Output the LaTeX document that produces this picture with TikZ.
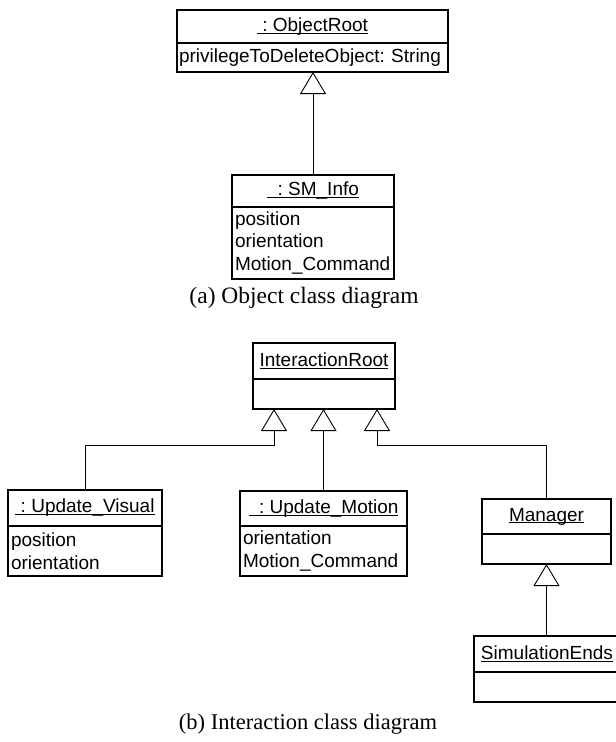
\documentclass[tikz,border=0pt]{standalone}
\usepackage{fontspec}
\setmainfont{Liberation Serif}
\newfontfamily\umlfont{Liberation Sans}
\usetikzlibrary{arrows.meta,calc}
\frenchspacing
\newcommand\umlul[1]{\setbox0\hbox{#1}\rlap{\rule[-2.2pt]{\wd0}{1pt}}\box0}
\begin{document}
\begin{tikzpicture}[x=1pt,y=-1pt,
  umlbox/.style={draw, line width=1.4pt, inner sep=0pt, outer sep=0pt, anchor=north west,
    font=\umlfont\fontsize{19}{22.5}\selectfont},
  hdr/.style={umlbox, align=center},
  bdy/.style={umlbox, align=left, inner xsep=3pt},
  gen/.style={-{Triangle[open,length=22pt,width=26pt]}, line width=0.9pt},
  captext/.style={anchor=base, font=\fontsize{22.5}{26}\selectfont}]
\useasboundingbox (0,0) rectangle (616,742);
\clip (0,0) rectangle (616,742);

% (a) Object class diagram
\node[hdr, minimum width=271pt, minimum height=33pt] (orh) at (177,10) {\umlul{\ : ObjectRoot}};
\node[bdy, minimum width=271pt, minimum height=29pt, inner xsep=2pt, text width=267pt] (orb) at (orh.south west) {\mbox{privilegeToDeleteObject: String}};

\node[hdr, minimum width=162pt, minimum height=32pt] (smh) at (232,175) {\umlul{\ \ : SM\_Info}};
\node[bdy, minimum width=162pt, minimum height=72pt, text width=156pt] (smb) at (smh.south west) {position\\orientation\\Motion\_Command};

\draw[gen] (smh.north) -- (smh.north |- orb.south);

\node[captext, font=\fontsize{23.5}{27}\selectfont] (capa) at (304,303) {(a) Object class diagram};

% (b) Interaction class diagram
\node[hdr, minimum width=142pt, minimum height=36pt] (irh) at (253,343) {\umlul{InteractionRoot}};
\node[bdy, minimum width=142pt, minimum height=30pt, text width=136pt] (irb) at (irh.south west) {};

\node[hdr, minimum width=154pt, minimum height=36pt] (uvh) at (8,490) {\umlul{\ : Update\_Visual}};
\node[bdy, minimum width=154pt, minimum height=50pt, text width=148pt] (uvb) at (uvh.south west) {position\\orientation};

\node[hdr, minimum width=167pt, minimum height=35pt] (umh) at (240,491) {\umlul{\ \ : Update\_Motion}};
\node[bdy, minimum width=167pt, minimum height=50pt, text width=161pt] (umb) at (umh.south west) {orientation\\Motion\_Command};

\node[hdr, minimum width=129pt, minimum height=35pt] (mgh) at (482,499) {\umlul{Manager}};
\node[bdy, minimum width=129pt, minimum height=30pt, text width=123pt] (mgb) at (mgh.south west) {};

\node[hdr, minimum width=146pt, minimum height=36pt] (seh) at (474,636) {\umlul{SimulationEnds}};
\node[bdy, minimum width=146pt, minimum height=30pt, text width=140pt] (seb) at (seh.south west) {};

\coordinate (ta) at ($(irb.south west)+(21,0)$);
\coordinate (tb) at ($(irb.south east)+(-18,0)$);

\draw[gen] (uvh.north) |- ($(ta)+(0,36)$) -- (ta);
\draw[gen] (umh.north) -- (umh.north |- irb.south);
\draw[gen] (mgh.north) |- ($(tb)+(0,36)$) -- (tb);
\draw[gen] (mgb.south |- seh.north) -- (mgb.south);

\node[captext] (capb) at (308,729) {(b) Interaction class diagram};
\end{tikzpicture}
\end{document}
